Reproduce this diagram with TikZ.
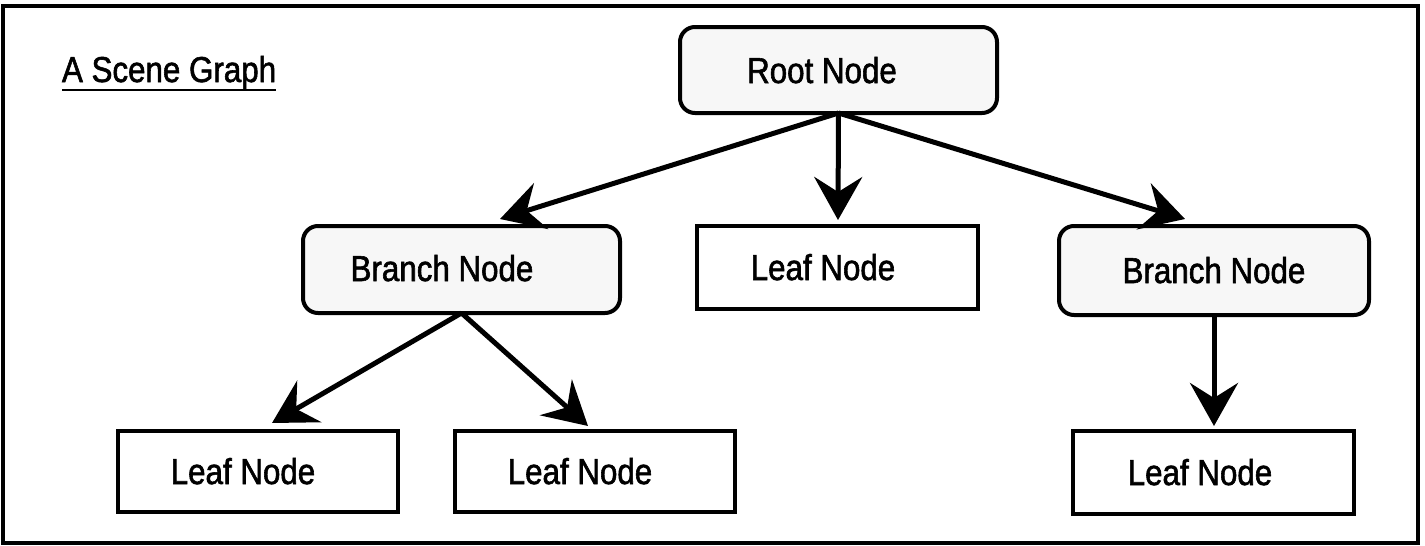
\documentclass[tikz,border=0pt]{standalone}
\usepackage{fontspec}
\setmainfont{Liberation Sans}[FakeStretch=0.87, FakeBold=1.6]
\usetikzlibrary{arrows.meta}
\begin{document}
\begin{tikzpicture}[x=1pt,y=-1pt,
  every node/.style={inner sep=0pt, outer sep=0pt},
  txt/.style={anchor=base, font=\fontsize{36}{40}\selectfont},
  grpbox/.style={draw, line width=4pt, rounded corners=15pt, fill=black!3},
  leafbox/.style={draw, line width=4pt, fill=white},
  link/.style={line width=5pt, -{Stealth[length=43pt, width=48pt, inset=15pt]}}
]
\useasboundingbox (0,0) rectangle (1425,546);
\draw[line width=4pt] (2.5,6) rectangle (1418,542.5);

% title
\node[txt, anchor=base west] (title) at (62,82) {A Scene Graph};
\draw[line width=2.5pt] ([yshift=-8pt]title.base west) -- ([yshift=-8pt]title.base east);

% boxes
\node[grpbox, minimum width=317pt, minimum height=86pt] (root) at (838.5,70) {};
\node[grpbox, minimum width=317pt, minimum height=87pt] (bl) at (461.5,269.5) {};
\node[leafbox, minimum width=281pt, minimum height=83pt] (lm) at (837.5,267.5) {};
\node[grpbox, minimum width=310pt, minimum height=89pt] (br) at (1214,270.5) {};
\node[leafbox, minimum width=280pt, minimum height=81pt] (l1) at (258,471.5) {};
\node[leafbox, minimum width=280pt, minimum height=81pt] (l2) at (595,471.5) {};
\node[leafbox, minimum width=281pt, minimum height=83pt] (l3) at (1213.5,472.5) {};

% labels
\node[txt] (rootT) at (822,83) {Root Node};
\node[txt] (blT) at (442,281) {Branch Node};
\node[txt] (lmT) at (823,280) {Leaf Node};
\node[txt] (brT) at (1214,283) {Branch Node};
\node[txt] (l1T) at (243,484) {Leaf Node};
\node[txt] (l2T) at (580,484) {Leaf Node};
\node[txt] (l3T) at (1200,485) {Leaf Node};

% arrow tips
\coordinate (tBL) at (500,219);
\coordinate (tLM) at (838,220);
\coordinate (tBR) at (1185,219);
\coordinate (t1) at (272,423);
\coordinate (t2) at (588,426);
\coordinate (t3) at (1214,426);

\draw[link] (root.south) -- (tBL);
\draw[link] (root.south) -- (tLM);
\draw[link] (root.south) -- (tBR);
\draw[link] (bl.south) -- (t1);
\draw[link] (bl.south) -- (t2);
\draw[link] (br.south) -- (t3);
\end{tikzpicture}
\end{document}
